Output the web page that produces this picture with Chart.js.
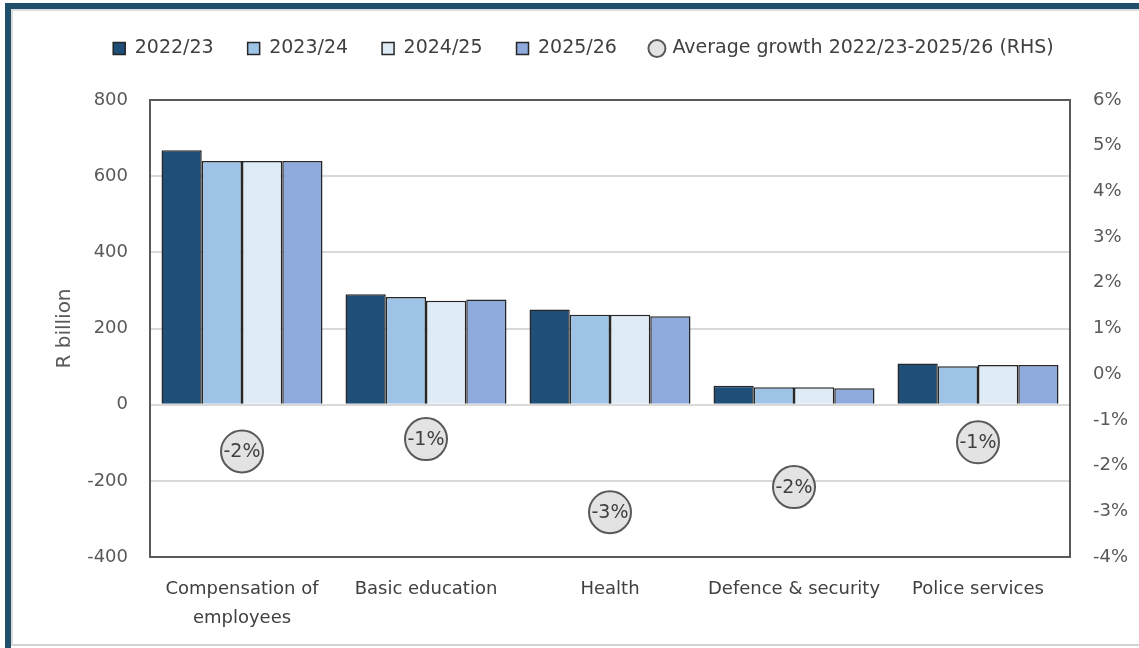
<!DOCTYPE html>
<html>
<head>
<meta charset="utf-8">
<script src="https://cdn.jsdelivr.net/npm/chart.js@4.4.1/dist/chart.umd.min.js"></script>
<style>
  html, body { margin: 0; padding: 0; background: #fff; overflow: hidden; }
  #frame {
    position: absolute; left: 5px; top: 3px; width: 1200px; height: 700px;
    border-top: 6px solid #1f4f6b; border-left: 6px solid #1f4f6b;
  }
  #inner {
    position: absolute; left: 11px; top: 9px; width: 1200px; height: 633px;
    border-top: 2px solid #dcdcdc; border-left: 2px solid #dcdcdc; border-bottom: 2px solid #d2d2d2;
  }
  #wrap { position: absolute; left: 0; top: 0; width: 1139px; height: 648px; }
</style>
</head>
<body>
<div id="frame"></div>
<div id="inner"></div>
<div id="wrap"><canvas id="chart" width="1139" height="648"></canvas></div>
<script>
const categories = [
  ["Compensation of", "employees"],
  "Basic education",
  "Health",
  "Defence & security",
  "Police services",
];
const y2022 = [668, 290, 250, 50, 108];
const y2023 = [640, 283, 236, 46, 101];
const y2024 = [640, 273, 236, 46, 104];
const y2025 = [640, 276, 232, 43, 104];
// average growth, percent (right-hand axis)
const growth = [-1.69, -1.42, -3.02, -2.47, -1.49];

const leftTicks = { min: -400, max: 800, step: 200 };
const rightTicks = { min: -4, max: 6, step: 1 };

const FONT = '"DejaVu Sans", sans-serif';
const barBorder = "#262626";

// legend: keep the chart area starting at y=100, nudge items right a bit
const legendSpace = {
  id: "legendSpace",
  beforeLayout(chart) {
    const lg = chart.legend;
    if (lg && !lg._patched) {
      const fit = lg.fit;
      lg.fit = function () {
        fit.call(this);
        this.height = 95;
      };
      lg._patched = true;
    }
  },
  afterLayout(chart) {
    const lg = chart.legend;
    if (lg) {
      lg.left += 14;
      lg.right += 14;
    }
  },
};

const plotBox = {
  id: "plotBox",
  afterDatasetsDraw(chart) {
    const { ctx, chartArea: a } = chart;
    ctx.save();
    ctx.strokeStyle = "#595959";
    ctx.lineWidth = 2;
    ctx.strokeRect(a.left, a.top, a.right - a.left, a.bottom - a.top);
    ctx.restore();
  },
};

const growthLabels = {
  id: "growthLabels",
  afterDatasetsDraw(chart) {
    const { ctx } = chart;
    const meta = chart.getDatasetMeta(4);
    ctx.save();
    ctx.font = "19px " + FONT;
    ctx.fillStyle = "#404040";
    ctx.textAlign = "center";
    ctx.textBaseline = "middle";
    meta.data.forEach((pt, i) => {
      ctx.fillText(Math.round(growth[i]) + "%", pt.x, pt.y + 1);
    });
    ctx.restore();
  },
};

function barSet(label, data, color) {
  return {
    type: "bar",
    label,
    data,
    backgroundColor: color,
    borderColor: barBorder,
    borderWidth: 1.5,
    pointStyle: "rect",
    yAxisID: "y",
    categoryPercentage: 0.875,
    barPercentage: 1.0,
  };
}

new Chart(document.getElementById("chart"), {
  data: {
    labels: categories,
    datasets: [
      barSet("2022/23", y2022, "#1f4e78"),
      barSet("2023/24", y2023, "#9dc3e6"),
      barSet("2024/25", y2024, "#deebf7"),
      barSet("2025/26", y2025, "#8faadc"),
      {
        type: "line",
        label: "Average growth 2022/23-2025/26 (RHS)",
        data: growth,
        yAxisID: "y1",
        showLine: false,
        pointStyle: "circle",
        pointRadius: 21,
        pointHoverRadius: 21,
        pointBackgroundColor: "#e3e3e3",
        pointBorderColor: "#595959",
        pointBorderWidth: 2,
        backgroundColor: "#e3e3e3",
        borderColor: "#595959",
        borderWidth: 2,
      },
    ],
  },
  options: {
    responsive: false,
    animation: false,
    layout: { padding: { top: 5, left: 0, right: 0, bottom: 0 } },
    plugins: {
      legend: {
        position: "top",
        labels: {
          usePointStyle: true,
          boxWidth: 12,
          boxHeight: 12,
          padding: 34,
          color: "#404040",
          font: { family: FONT, size: 19 },
        },
      },
      tooltip: { enabled: false },
    },
    scales: {
      x: {
        grid: { display: false, drawTicks: false },
        border: { color: "#595959", width: 2 },
        ticks: {
          color: "#404040",
          font: { family: FONT, size: 18, lineHeight: 1.6 },
          padding: 18,
          maxRotation: 0,
          autoSkip: false,
        },
        afterFit(s) { s.height = 91; },
      },
      y: {
        position: "left",
        min: leftTicks.min,
        max: leftTicks.max,
        ticks: {
          stepSize: leftTicks.step,
          color: "#595959",
          font: { family: FONT, size: 18 },
          padding: 22,
        },
        grid: { color: "#d9d9d9", lineWidth: 2, drawTicks: false },
        border: { color: "#595959", width: 2 },
        title: {
          display: true,
          text: "R billion",
          color: "#595959",
          font: { family: FONT, size: 20 },
          padding: { top: 53, bottom: 0 },
        },
        afterFit(s) { s.width = 150; },
      },
      y1: {
        position: "right",
        min: rightTicks.min,
        max: rightTicks.max,
        ticks: {
          stepSize: rightTicks.step,
          color: "#595959",
          font: { family: FONT, size: 18 },
          padding: 23,
          callback: (v) => v + "%",
        },
        grid: { drawOnChartArea: false, drawTicks: false },
        border: { color: "#595959", width: 2 },
        afterFit(s) { s.width = 69; },
      },
    },
  },
  plugins: [legendSpace, plotBox, growthLabels],
});
</script>
</body>
</html>
